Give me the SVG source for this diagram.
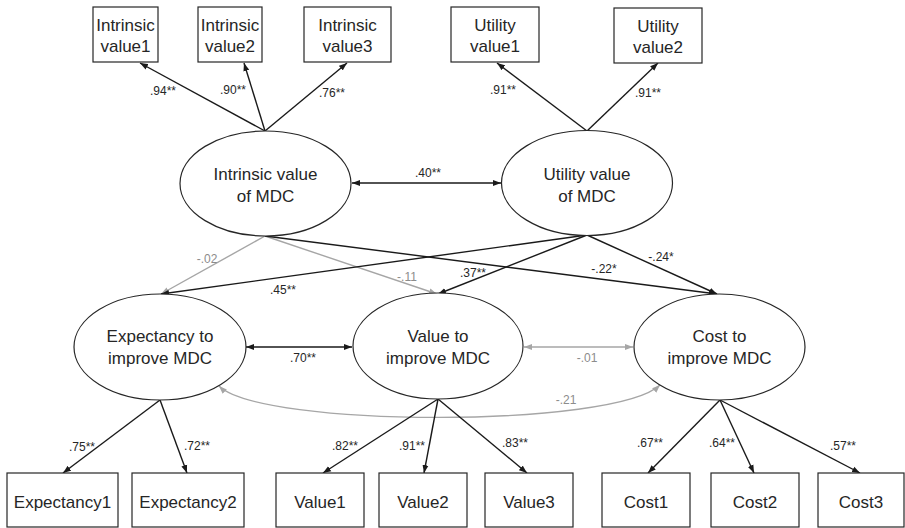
<svg xmlns="http://www.w3.org/2000/svg" width="905" height="528" viewBox="0 0 905 528">
<style>
.box{fill:#fff;stroke:#262626;stroke-width:1.2}
.ell{fill:#fff;stroke:#262626;stroke-width:1.2}
.nt{font-family:"Liberation Sans",Arial,sans-serif;font-size:17px;fill:#262626;text-anchor:middle}
.lb{font-family:"Liberation Sans",Arial,sans-serif;font-size:12px;fill:#262626;text-anchor:middle}
.lg{font-family:"Liberation Sans",Arial,sans-serif;font-size:12px;fill:#8c8c8c;text-anchor:middle}
.k{fill:none;stroke:#1a1a1a;stroke-width:1.4;marker-end:url(#ak)}
.g{fill:none;stroke:#a6a6a6;stroke-width:1.4;marker-end:url(#ag)}
.kk{fill:none;stroke:#1a1a1a;stroke-width:1.4;marker-start:url(#ak);marker-end:url(#ak)}
.gg{fill:none;stroke:#a6a6a6;stroke-width:1.4;marker-start:url(#ag);marker-end:url(#ag)}
</style>
<defs>
<marker id="ak" markerUnits="userSpaceOnUse" markerWidth="9" markerHeight="7" refX="8" refY="3.5" orient="auto-start-reverse"><path d="M0,0.5 L8,3.5 L0,6.5 z" fill="#1a1a1a"/></marker>
<marker id="ag" markerUnits="userSpaceOnUse" markerWidth="9" markerHeight="7" refX="8" refY="3.5" orient="auto-start-reverse"><path d="M0,0.5 L8,3.5 L0,6.5 z" fill="#a6a6a6"/></marker>
</defs>
<g id="connectors">
<line class="k" x1="265" y1="131" x2="140" y2="63"/>
<line class="k" x1="265" y1="131" x2="244" y2="63"/>
<line class="k" x1="265" y1="131" x2="347" y2="63"/>
<line class="k" x1="587" y1="131" x2="497" y2="63"/>
<line class="k" x1="587" y1="131" x2="658" y2="63"/>
<line class="kk" x1="352" y1="183" x2="501" y2="183"/>
<line class="g" x1="265" y1="236" x2="161" y2="294"/>
<line class="g" x1="265" y1="236" x2="437" y2="294"/>
<line class="k" x1="265" y1="236" x2="717" y2="294"/>
<line class="k" x1="587" y1="235" x2="161" y2="294"/>
<line class="k" x1="587" y1="235" x2="438" y2="294"/>
<line class="k" x1="587" y1="235" x2="717" y2="294"/>
<line class="kk" x1="246" y1="347" x2="352" y2="347"/>
<line class="gg" x1="524" y1="347" x2="633" y2="347"/>
<path class="gg" d="M219,386 C262,428 615,428 660,385"/>
<line class="k" x1="160" y1="400" x2="63" y2="473"/>
<line class="k" x1="160" y1="400" x2="187" y2="473"/>
<line class="k" x1="438" y1="399" x2="323" y2="473"/>
<line class="k" x1="438" y1="399" x2="424" y2="473"/>
<line class="k" x1="438" y1="399" x2="527" y2="473"/>
<line class="k" x1="720" y1="400" x2="648" y2="473"/>
<line class="k" x1="720" y1="400" x2="754" y2="473"/>
<line class="k" x1="720" y1="400" x2="860" y2="473"/>
<text class="lb" x="163" y="95">.94**</text>
<text class="lb" x="233" y="94">.90**</text>
<text class="lb" x="332" y="97">.76**</text>
<text class="lb" x="503" y="94">.91**</text>
<text class="lb" x="648" y="97">.91**</text>
<text class="lb" x="428" y="177">.40**</text>
<text class="lg" x="207" y="263">-.02</text>
<text class="lb" x="283" y="294">.45**</text>
<text class="lg" x="407" y="281">-.11</text>
<text class="lb" x="473" y="277">.37**</text>
<text class="lb" x="604" y="273">-.22*</text>
<text class="lb" x="661" y="261">-.24*</text>
<text class="lb" x="303" y="362">.70**</text>
<text class="lg" x="587" y="362">-.01</text>
<text class="lg" x="566" y="404">-.21</text>
<text class="lb" x="82" y="451">.75**</text>
<text class="lb" x="197" y="450">.72**</text>
<text class="lb" x="345" y="450">.82**</text>
<text class="lb" x="412" y="450">.91**</text>
<text class="lb" x="515" y="447">.83**</text>
<text class="lb" x="650" y="447">.67**</text>
<text class="lb" x="722" y="447">.64**</text>
<text class="lb" x="843" y="450">.57**</text>
</g>
<g id="iv1"><rect class="box" x="93" y="7" width="65" height="55"/><text class="nt" x="125.5" y="31">Intrinsic</text><text class="nt" x="125.5" y="52">value1</text></g>
<g id="iv2"><rect class="box" x="198" y="7" width="64" height="55"/><text class="nt" x="230" y="31">Intrinsic</text><text class="nt" x="230" y="52">value2</text></g>
<g id="iv3"><rect class="box" x="304" y="7" width="87" height="55"/><text class="nt" x="347.5" y="31">Intrinsic</text><text class="nt" x="347.5" y="52">value3</text></g>
<g id="uv1"><rect class="box" x="451" y="7" width="88" height="55"/><text class="nt" x="495" y="31">Utility</text><text class="nt" x="495" y="52">value1</text></g>
<g id="uv2"><rect class="box" x="614" y="8" width="88" height="55"/><text class="nt" x="658" y="32">Utility</text><text class="nt" x="658" y="53">value2</text></g>
<g id="intrinsic"><ellipse class="ell" cx="265.5" cy="183.5" rx="85.5" ry="52.5"/><text class="nt" x="265.5" y="180">Intrinsic value</text><text class="nt" x="265.5" y="202">of MDC</text></g>
<g id="utility"><ellipse class="ell" cx="587" cy="183" rx="85.5" ry="52.5"/><text class="nt" x="587" y="180">Utility value</text><text class="nt" x="587" y="202">of MDC</text></g>
<g id="expectancy"><ellipse class="ell" cx="160" cy="347" rx="86" ry="53"/><text class="nt" x="160" y="342">Expectancy to</text><text class="nt" x="160" y="364">improve MDC</text></g>
<g id="value"><ellipse class="ell" cx="438" cy="346" rx="85" ry="53"/><text class="nt" x="438" y="342">Value to</text><text class="nt" x="438" y="364">improve MDC</text></g>
<g id="cost"><ellipse class="ell" cx="719.5" cy="347" rx="85.5" ry="53"/><text class="nt" x="719.5" y="342">Cost to</text><text class="nt" x="719.5" y="364">improve MDC</text></g>
<g id="e1"><rect class="box" x="7" y="473" width="111" height="54"/><text class="nt" x="62.5" y="508">Expectancy1</text></g>
<g id="e2"><rect class="box" x="132" y="473" width="112" height="54"/><text class="nt" x="188" y="508">Expectancy2</text></g>
<g id="v1"><rect class="box" x="276" y="473" width="88" height="54"/><text class="nt" x="320" y="508">Value1</text></g>
<g id="v2"><rect class="box" x="379" y="473" width="88" height="54"/><text class="nt" x="423" y="508">Value2</text></g>
<g id="v3"><rect class="box" x="485" y="473" width="88" height="54"/><text class="nt" x="529" y="508">Value3</text></g>
<g id="c1"><rect class="box" x="602" y="473" width="88" height="54"/><text class="nt" x="646" y="508">Cost1</text></g>
<g id="c2"><rect class="box" x="711" y="473" width="88" height="54"/><text class="nt" x="755" y="508">Cost2</text></g>
<g id="c3"><rect class="box" x="818" y="473" width="86" height="54"/><text class="nt" x="861" y="508">Cost3</text></g>
</svg>
